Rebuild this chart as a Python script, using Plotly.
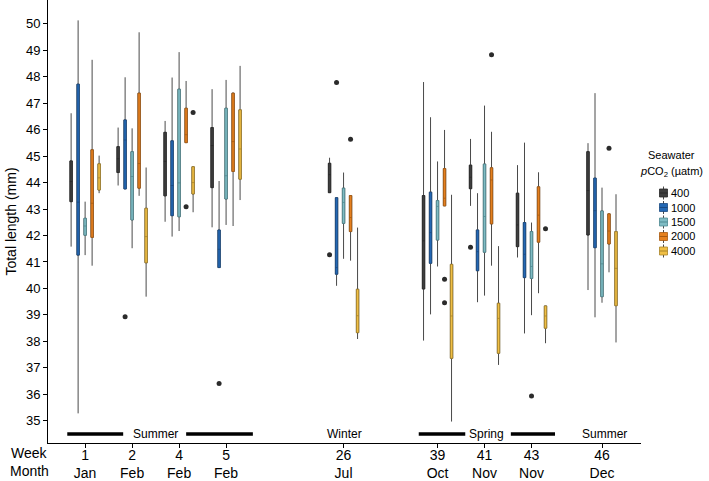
import plotly.graph_objects as go

# ---------------- data ----------------
WEEKS = [1, 2, 4, 5, 26, 39, 41, 43, 46]
MONTHS = ["Jan", "Feb", "Feb", "Feb", "Jul", "Oct", "Nov", "Nov", "Dec"]
SERIES = ["400", "1000", "1500", "2000", "4000"]

LOW_400 = [41.58, 43.89, 42.52, 42.31, 43.62, 38.03, 43.12, 41.17, 39.94]
Q1_400 = [43.28, 44.38, 43.50, 43.81, 43.62, 39.98, 43.77, 41.58, 42.02]
MED_400 = [44.04, 44.90, 44.80, 45.40, 44.30, 41.80, 44.20, 42.40, 43.70]
Q3_400 = [44.82, 45.36, 45.90, 46.08, 44.73, 43.51, 44.66, 43.60, 45.17]
HIGH_400 = [46.62, 46.08, 46.33, 47.53, 44.94, 47.80, 45.65, 44.66, 45.49]

LOW_1000 = [35.28, 43.76, 41.96, 40.79, 40.10, 39.02, 39.48, 38.30, 38.91]
Q1_1000 = [41.26, 43.76, 42.75, 40.79, 40.54, 40.95, 40.67, 40.41, 41.54]
MED_1000 = [43.26, 45.61, 43.89, 41.48, 40.79, 42.11, 41.39, 41.29, 42.94]
Q3_1000 = [47.72, 46.37, 45.58, 42.21, 43.43, 43.64, 42.21, 42.49, 44.17]
HIGH_1000 = [50.13, 47.98, 47.97, 44.06, 43.43, 46.47, 43.60, 45.51, 47.38]

LOW_1500 = [41.26, 41.52, 42.17, 42.40, 41.12, 40.83, 39.73, 38.99, 39.46]
Q1_1500 = [42.01, 42.59, 42.71, 43.38, 42.46, 41.83, 41.37, 40.38, 39.69]
MED_1500 = [42.36, 44.23, 43.99, 44.26, 43.25, 43.10, 42.72, 40.83, 40.93]
Q3_1500 = [42.65, 45.17, 47.53, 46.81, 43.79, 43.32, 44.70, 42.15, 42.93]
HIGH_1500 = [43.28, 46.05, 48.93, 47.88, 44.38, 44.80, 46.91, 42.49, 43.81]

LOW_2000 = [40.86, 43.50, 45.51, 42.36, 41.05, 43.12, 40.86, 39.82, 40.61]
Q1_2000 = [41.93, 43.79, 45.51, 44.42, 42.15, 43.12, 42.44, 41.75, 41.68]
MED_2000 = [43.22, 44.72, 45.81, 45.55, 42.68, 43.41, 44.10, 42.77, 42.17]
Q3_2000 = [45.24, 47.38, 46.81, 47.38, 43.51, 44.53, 44.56, 43.84, 42.82]
HIGH_2000 = [48.64, 49.68, 47.84, 47.40, 43.51, 45.99, 45.92, 44.39, 42.82]

LOW_4000 = [43.60, 39.69, 42.88, 43.34, 38.09, 34.97, 37.11, 37.93, 37.96]
Q1_4000 = [43.72, 40.97, 43.57, 44.13, 38.33, 37.36, 37.55, 38.50, 39.35]
MED_4000 = [44.18, 41.96, 44.00, 45.27, 38.97, 38.96, 38.87, 38.96, 40.76]
Q3_4000 = [44.71, 43.03, 44.60, 46.75, 39.97, 40.91, 39.44, 39.34, 42.15]
HIGH_4000 = [45.02, 44.57, 44.60, 48.41, 42.30, 43.54, 41.60, 39.34, 43.56]

OUT_SERIES = ["400", "400", "1000", "1000", "1000", "1500", "2000", "2000",
              "2000", "2000", "2000", "2000", "4000", "4000"]
OUT_WEEK = [26, 41, 2, 5, 26, 43, 4, 26, 39, 39, 41, 46, 4, 43]
OUT_VALUE = [41.27, 41.56, 38.93, 36.41, 47.78, 35.94, 43.09, 45.64,
             40.35, 39.46, 48.83, 45.30, 46.65, 42.26]

SEASONS = ["Summer", "Winter", "Spring", "Summer"]
Y_TICKS = list(range(35, 51))

STATS = {
    "400": (LOW_400, Q1_400, MED_400, Q3_400, HIGH_400),
    "1000": (LOW_1000, Q1_1000, MED_1000, Q3_1000, HIGH_1000),
    "1500": (LOW_1500, Q1_1500, MED_1500, Q3_1500, HIGH_1500),
    "2000": (LOW_2000, Q1_2000, MED_2000, Q3_2000, HIGH_2000),
    "4000": (LOW_4000, Q1_4000, MED_4000, Q3_4000, HIGH_4000),
}

# ---------------- style / layout ----------------
FILL = ["#3f3f3f", "#2468b4", "#80bcc4", "#e5801f", "#f0bf45"]
EDGE = ["#2a2a2a", "#1a4a82", "#4f8a92", "#a85a10", "#a8842a"]
WHISKER = "#4a4a4a"
SLOT = [0, 1, 2, 3, 5.5, 7.5, 8.5, 9.5, 11]   # category centres on the axis
DODGE = 0.149
BOX_HALF = 0.05
FONT = "Liberation Sans, Arial, sans-serif"

W, H = 709, 481
ML, MR, MT, MB = 48, 68, 0, 38
PW, PH = W - ML - MR, H - MT - MB

fig = go.Figure()
slot_of = dict(zip(WEEKS, SLOT))

for i, name in enumerate(SERIES):
    lo, q1, med, q3, hi = STATS[name]
    xs = [s + (i - 2) * DODGE for s in SLOT]
    # whiskers
    fig.add_trace(go.Box(
        x=xs, lowerfence=lo, q1=q1, median=med, q3=q3, upperfence=hi,
        width=BOX_HALF, whiskerwidth=0, fillcolor=FILL[i],
        line=dict(color=WHISKER, width=1), showlegend=False,
        hoverinfo="skip"))
    # box body
    fig.add_trace(go.Box(
        x=xs, lowerfence=q1, q1=q1, median=med, q3=q3, upperfence=q3,
        width=BOX_HALF, whiskerwidth=0, fillcolor=FILL[i],
        line=dict(color=EDGE[i], width=0.8), name=name, showlegend=False))

# outliers
ox = [slot_of[w] + (SERIES.index(s) - 2) * DODGE for s, w in zip(OUT_SERIES, OUT_WEEK)]
fig.add_trace(go.Scatter(x=ox, y=OUT_VALUE, mode="markers",
                         marker=dict(color="#2b2b2b", size=5, line=dict(width=0)),
                         showlegend=False))

# season bars and labels
season_y = 34.5
bars = [(-0.38, 0.81), (2.15, 3.57), (7.1, 8.09), (9.06, 10.0)]
for x0, x1 in bars:
    fig.add_shape(type="line", xref="x", yref="y", x0=x0, x1=x1, y0=season_y, y1=season_y,
                  line=dict(color="black", width=3.5))
for label, xpos in zip(SEASONS, [1.49, 5.53, 8.55, 11.06]):
    fig.add_annotation(x=xpos, y=season_y, xref="x", yref="y", text=label, showarrow=False,
                       xanchor="center", yanchor="middle",
                       font=dict(size=12, color="black", family=FONT))


def px_x(px):
    return (px - ML) / PW


def px_y(py):
    return (H - MB - py) / PH


def label(px, py, text, size, anchor="center"):
    fig.add_annotation(x=px_x(px), y=px_y(py), xref="paper", yref="paper", text=text,
                       xanchor=anchor, yanchor="middle", showarrow=False,
                       font=dict(size=size, color="black", family=FONT))


# Week / Month row labels
label(29, 453, "Week", 14)
label(29, 471, "Month", 14)

# custom legend
label(671, 155, "Seawater", 11)
label(671, 172, "<i>p</i>CO<sub>2</sub> (µatm)", 11)
for i, name in enumerate(SERIES):
    cy = 193 + i * 14.5
    fig.add_shape(type="line", xref="paper", yref="paper", x0=px_x(663.5), x1=px_x(663.5),
                  y0=px_y(cy - 6.5), y1=px_y(cy + 6.5), line=dict(color=WHISKER, width=1))
    fig.add_shape(type="rect", xref="paper", yref="paper", x0=px_x(659.5), x1=px_x(667.5),
                  y0=px_y(cy - 4), y1=px_y(cy + 4), fillcolor=FILL[i],
                  line=dict(color=EDGE[i], width=0.8))
    fig.add_shape(type="line", xref="paper", yref="paper", x0=px_x(659.5), x1=px_x(667.5),
                  y0=px_y(cy), y1=px_y(cy), line=dict(color=EDGE[i], width=1))
    label(669, cy, name, 11, anchor="left")

fig.update_layout(
    template="none",
    width=W, height=H,
    margin=dict(l=ML, r=MR, t=MT, b=MB, autoexpand=False),
    plot_bgcolor="white", paper_bgcolor="white",
    font=dict(family=FONT, color="black"),
    boxmode="overlay",
    showlegend=False,
)
fig.update_xaxes(
    automargin=False,
    range=[-0.79, 11.83], showgrid=False, zeroline=False,
    showline=True, linecolor="black", linewidth=1,
    ticks="outside", ticklen=4, tickcolor="black",
    tickvals=SLOT, ticktext=[f"{w}<br>{m}" for w, m in zip(WEEKS, MONTHS)],
    tickfont=dict(size=14, color="black", family=FONT),
    ticklabelstandoff=-5,
)
fig.update_yaxes(
    automargin=False,
    range=[34.16, 50.9], showgrid=False, zeroline=False,
    showline=True, linecolor="black", linewidth=1,
    ticks="outside", ticklen=4, tickcolor="black",
    tickvals=Y_TICKS, tickfont=dict(size=13, color="black", family=FONT),
    title=dict(text="Total length (mm)", font=dict(size=14, color="black", family=FONT),
               standoff=6),
)

fig.write_html("out.html", config={"displayModeBar": False},
               post_script="document.body.style.margin='0px';")
